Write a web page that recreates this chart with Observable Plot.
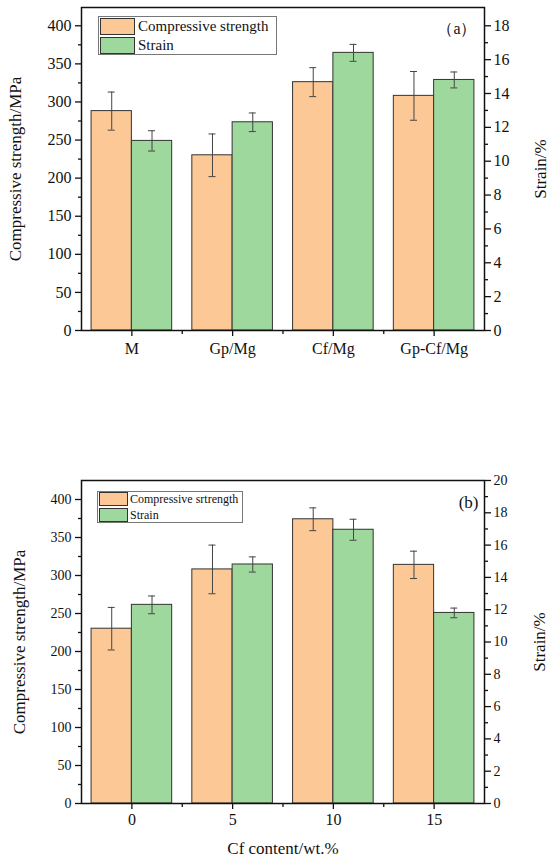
<!DOCTYPE html>
<html><head><meta charset="utf-8">
<script src="https://cdn.jsdelivr.net/npm/d3@7"></script>
<script src="https://cdn.jsdelivr.net/npm/@observablehq/plot@0.6"></script>
<style>
body{margin:0;background:#fff;font-family:"Liberation Serif","Times New Roman",serif;}
#wrap{position:relative;width:550px;height:864px;overflow:hidden;}
#wrap svg{display:block;}
.legend{position:absolute;border:1px solid #777;background:#fff;box-sizing:border-box;}
.sw{position:absolute;box-sizing:border-box;border:1px solid #333;}
.lt{position:absolute;line-height:1;white-space:nowrap;color:#111;}
</style></head><body><div id="wrap"></div>
<script>
// ---- Panel (a) data ----
const categoriesA = ["M", "Gp/Mg", "Cf/Mg", "Gp-Cf/Mg"];
const strengthA = [288, 230, 326, 308];
const strengthErrA = [25, 28, 19, 32];
const strainA = [11.2, 12.3, 16.4, 14.8];
const strainErrA = [0.6, 0.55, 0.5, 0.47];

// ---- Panel (b) data ----
const categoriesB = ["0", "5", "10", "15"];
const strengthB = [230, 308, 374, 314];
const strengthErrB = [28, 32, 15, 18];
const strainB = [12.3, 14.8, 16.95, 11.8];
const strainErrB = [0.55, 0.47, 0.65, 0.3];

// ---- tick labels ----
const strengthTicks = [0, 50, 100, 150, 200, 250, 300, 350, 400];
const strengthMinor = [25, 75, 125, 175, 225, 275, 325, 375];
const strainTicksA = [0, 2, 4, 6, 8, 10, 12, 14, 16, 18];
const strainMinorA = [1, 3, 5, 7, 9, 11, 13, 15, 17];
const strainTicksB = [0, 2, 4, 6, 8, 10, 12, 14, 16, 18, 20];
const strainMinorB = [1, 3, 5, 7, 9, 11, 13, 15, 17, 19];

const ORANGE = "#fcc896";
const GREEN = "#9ed89d";
const ERR = "#444";

function panel(o) {
  const W = 550, ml = 81, mr = 66;
  const n = o.cats.length;
  const step = (W - ml - mr) / n; // paddingInner .2, paddingOuter .1 -> range/n
  const bw = step * 0.8;
  const off = bw / 4, cap = 7;
  const k = o.k;
  const rows = o.cats.map((c, i) => ({
    cat: c,
    cs: o.cs[i], csLo: o.cs[i] - o.csErr[i], csHi: o.cs[i] + o.csErr[i],
    st: o.st[i] * k, stLo: (o.st[i] - o.stErr[i]) * k, stHi: (o.st[i] + o.stErr[i]) * k
  }));
  const capL = {insetLeft: off - cap / 2, insetRight: bw - off - cap / 2};
  const capR = {insetLeft: bw - off - cap / 2, insetRight: off - cap / 2};
  const marks = [
    Plot.barY(rows, {x: "cat", y: "cs", fill: ORANGE, stroke: "#333", strokeWidth: 1, insetRight: bw / 2}),
    Plot.barY(rows, {x: "cat", y: "st", fill: GREEN, stroke: "#333", strokeWidth: 1, insetLeft: bw / 2}),
    Plot.ruleX(rows, {x: "cat", y1: "csLo", y2: "csHi", dx: -off, stroke: ERR, strokeWidth: 1}),
    Plot.ruleX(rows, {x: "cat", y1: "stLo", y2: "stHi", dx: off, stroke: ERR, strokeWidth: 1}),
    Plot.tickY(rows, {x: "cat", y: "csLo", stroke: ERR, ...capL}),
    Plot.tickY(rows, {x: "cat", y: "csHi", stroke: ERR, ...capL}),
    Plot.tickY(rows, {x: "cat", y: "stLo", stroke: ERR, ...capR}),
    Plot.tickY(rows, {x: "cat", y: "stHi", stroke: ERR, ...capR}),
    Plot.frame({stroke: "#111", strokeWidth: 1.5}),
    Plot.axisY(strengthTicks, {anchor: "left", tickSize: 6, tickPadding: 4, fontSize: o.tickFs, label: null, strokeWidth: 1.3}),
    Plot.axisY(strengthMinor, {anchor: "left", tickSize: 3, tickFormat: () => "", label: null, strokeWidth: 1.3}),
    Plot.axisY(o.strainTicks.map(v => v * k), {anchor: "right", tickSize: 6, tickPadding: 3, fontSize: o.tickFs, tickFormat: d => String(Math.round(d / k)), label: null, strokeWidth: 1.3}),
    Plot.axisY(o.strainMinor.map(v => v * k), {anchor: "right", tickSize: 3, tickFormat: () => "", label: null, strokeWidth: 1.3}),
    Plot.axisX({anchor: "bottom", tickSize: 6, tickPadding: o.xPad, fontSize: o.xTickFs, label: null, strokeWidth: 1.3}),
    Plot.axisX(o.cats.slice(1), {anchor: "bottom", dx: -step / 2, tickSize: 4, tickFormat: () => "", label: null, strokeWidth: 1.3}),
    Plot.text(["Compressive strength/MPa"], {text: d => d, frameAnchor: "left", textAnchor: "middle", dx: o.leftDx, rotate: -90, fontSize: 17}),
    Plot.text(["Strain/%"], {text: d => d, frameAnchor: "right", textAnchor: "middle", dx: o.rightDx, rotate: -90, fontSize: 17}),
    Plot.text([o.tag], {text: d => d, frameAnchor: "top-right", textAnchor: "end", dx: o.tagDx, dy: 15, fontSize: o.tagFs})
  ];
  if (o.xLabel) marks.push(Plot.text([o.xLabel], {text: d => d, frameAnchor: "bottom", dy: 50, fontSize: 17}));
  return Plot.plot({
    width: W, height: o.height,
    marginLeft: ml, marginRight: mr, marginTop: o.mt, marginBottom: o.mb,
    style: {fontFamily: "'Liberation Serif','Times New Roman',serif", fontSize: "16px", color: "#111", background: "#fff"},
    x: {type: "band", domain: o.cats, paddingInner: 0.2, paddingOuter: 0.1, round: false},
    y: {domain: [0, o.yMax]},
    marks
  });
}

const wrap = document.getElementById("wrap");
wrap.appendChild(panel({
  cats: categoriesA, cs: strengthA, csErr: strengthErrA, st: strainA, stErr: strainErrA,
  yMax: 424, k: 400 / 18, strainTicks: strainTicksA, strainMinor: strainMinorA,
  height: 440, mt: 7, mb: 110, tickFs: 16, xTickFs: 16, xPad: 6,
  leftDx: -66, rightDx: 56, tag: "（a）", tagDx: -8, tagFs: 16
}));
wrap.appendChild(panel({
  cats: categoriesB, cs: strengthB, csErr: strengthErrB, st: strainB, stErr: strainErrB,
  yMax: 425, k: 425 / 20, strainTicks: strainTicksB, strainMinor: strainMinorB,
  height: 424, mt: 40, mb: 61, tickFs: 14, xTickFs: 16, xPad: 4,
  leftDx: -62, rightDx: 55, tag: "(b)", tagDx: -6, tagFs: 17, xLabel: "Cf content/wt.%"
}));

function legend(box, items, fs) {
  const d = document.createElement("div");
  d.className = "legend";
  Object.assign(d.style, {left: box.x + "px", top: box.y + "px", width: box.w + "px", height: box.h + "px"});
  wrap.appendChild(d);
  items.forEach(it => {
    const s = document.createElement("div");
    s.className = "sw";
    Object.assign(s.style, {left: it.sx + "px", top: it.sy + "px", width: it.sw + "px", height: it.sh + "px", background: it.color});
    wrap.appendChild(s);
    const t = document.createElement("div");
    t.className = "lt";
    t.textContent = it.label;
    Object.assign(t.style, {left: it.tx + "px", top: (it.sy + it.sh / 2 - fs * 0.5) + "px", fontSize: fs + "px"});
    wrap.appendChild(t);
  });
}
legend({x: 98, y: 16, w: 179, h: 39}, [
  {color: ORANGE, label: "Compressive strength", sx: 100, sy: 18, sw: 35, sh: 17, tx: 138},
  {color: GREEN, label: "Strain", sx: 100, sy: 37, sw: 35, sh: 17, tx: 138}
], 15);
legend({x: 97, y: 491, w: 146, h: 32}, [
  {color: ORANGE, label: "Compressive srtrength", sx: 99, sy: 492, sw: 29, sh: 14, tx: 130},
  {color: GREEN, label: "Strain", sx: 99, sy: 508, sw: 29, sh: 14, tx: 130}
], 12);
</script></body></html>
